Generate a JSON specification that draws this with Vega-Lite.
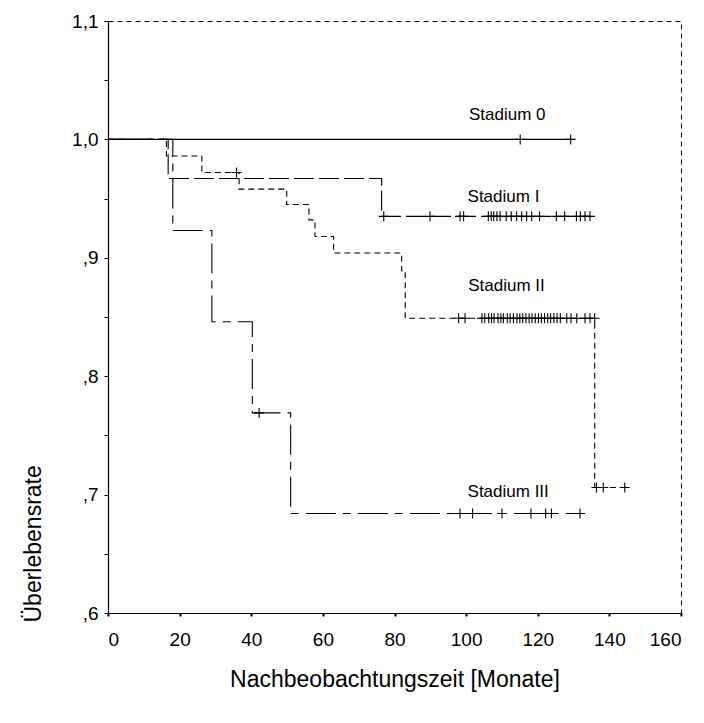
{
  "$schema": "https://vega.github.io/schema/vega-lite/v6.json",
  "width": 573,
  "height": 592,
  "autosize": "none",
  "padding": {"left": 108, "top": 21, "right": 23, "bottom": 110},
  "background": "white",
  "config": {
    "view": {"stroke": "black", "strokeDash": [5, 4], "strokeWidth": 1},
    "font": "Liberation Sans",
    "axis": {
      "grid": false,
      "domainColor": "black",
      "domainWidth": 1.2,
      "tickColor": "black",
      "labelColor": "black",
      "titleColor": "black",
      "labelFont": "Liberation Sans",
      "titleFont": "Liberation Sans",
      "labelFontSize": 19,
      "titleFontSize": 23,
      "titleFontWeight": "normal"
    }
  },
  "datasets": {
    "curve": [
      {"g": "Stadium 0", "t": 0, "s": 1.0},
      {"g": "Stadium 0", "t": 129.2, "s": 1.0},
      {"g": "Stadium I", "t": 0, "s": 1.0},
      {"g": "Stadium I", "t": 16.8, "s": 0.967},
      {"g": "Stadium I", "t": 76.4, "s": 0.935},
      {"g": "Stadium I", "t": 134.6, "s": 0.935},
      {"g": "Stadium II", "t": 0, "s": 1.0},
      {"g": "Stadium II", "t": 16.3, "s": 0.986},
      {"g": "Stadium II", "t": 26.2, "s": 0.972},
      {"g": "Stadium II", "t": 36.6, "s": 0.958},
      {"g": "Stadium II", "t": 49.9, "s": 0.945},
      {"g": "Stadium II", "t": 56.1, "s": 0.932},
      {"g": "Stadium II", "t": 57.8, "s": 0.918},
      {"g": "Stadium II", "t": 63.0, "s": 0.904},
      {"g": "Stadium II", "t": 82.0, "s": 0.889},
      {"g": "Stadium II", "t": 83.0, "s": 0.849},
      {"g": "Stadium II", "t": 135.9, "s": 0.706},
      {"g": "Stadium II", "t": 144.3, "s": 0.706},
      {"g": "Stadium III", "t": 0, "s": 1.0},
      {"g": "Stadium III", "t": 18.1, "s": 0.923},
      {"g": "Stadium III", "t": 29.0, "s": 0.846},
      {"g": "Stadium III", "t": 40.3, "s": 0.769},
      {"g": "Stadium III", "t": 51.0, "s": 0.684},
      {"g": "Stadium III", "t": 131.8, "s": 0.684}
    ],
    "censor": [
      {"g": "Stadium 0", "t": 115.1, "s": 1.0},
      {"g": "Stadium 0", "t": 129.2, "s": 1.0},
      {"g": "Stadium I", "t": 77.0, "s": 0.935},
      {"g": "Stadium I", "t": 89.9, "s": 0.935},
      {"g": "Stadium I", "t": 98.3, "s": 0.935},
      {"g": "Stadium I", "t": 99.3, "s": 0.935},
      {"g": "Stadium I", "t": 106.2, "s": 0.935},
      {"g": "Stadium I", "t": 107.0, "s": 0.935},
      {"g": "Stadium I", "t": 107.7, "s": 0.935},
      {"g": "Stadium I", "t": 108.6, "s": 0.935},
      {"g": "Stadium I", "t": 109.5, "s": 0.935},
      {"g": "Stadium I", "t": 111.2, "s": 0.935},
      {"g": "Stadium I", "t": 112.6, "s": 0.935},
      {"g": "Stadium I", "t": 114.1, "s": 0.935},
      {"g": "Stadium I", "t": 115.5, "s": 0.935},
      {"g": "Stadium I", "t": 116.9, "s": 0.935},
      {"g": "Stadium I", "t": 118.3, "s": 0.935},
      {"g": "Stadium I", "t": 120.5, "s": 0.935},
      {"g": "Stadium I", "t": 125.2, "s": 0.935},
      {"g": "Stadium I", "t": 127.5, "s": 0.935},
      {"g": "Stadium I", "t": 130.8, "s": 0.935},
      {"g": "Stadium I", "t": 131.9, "s": 0.935},
      {"g": "Stadium I", "t": 133.2, "s": 0.935},
      {"g": "Stadium I", "t": 134.6, "s": 0.935},
      {"g": "Stadium II", "t": 35.9, "s": 0.972},
      {"g": "Stadium II", "t": 97.9, "s": 0.849},
      {"g": "Stadium II", "t": 99.7, "s": 0.849},
      {"g": "Stadium II", "t": 104.4, "s": 0.849},
      {"g": "Stadium II", "t": 105.2, "s": 0.849},
      {"g": "Stadium II", "t": 106.3, "s": 0.849},
      {"g": "Stadium II", "t": 107.1, "s": 0.849},
      {"g": "Stadium II", "t": 107.8, "s": 0.849},
      {"g": "Stadium II", "t": 108.9, "s": 0.849},
      {"g": "Stadium II", "t": 109.7, "s": 0.849},
      {"g": "Stadium II", "t": 110.4, "s": 0.849},
      {"g": "Stadium II", "t": 111.5, "s": 0.849},
      {"g": "Stadium II", "t": 112.3, "s": 0.849},
      {"g": "Stadium II", "t": 113.2, "s": 0.849},
      {"g": "Stadium II", "t": 114.2, "s": 0.849},
      {"g": "Stadium II", "t": 115.0, "s": 0.849},
      {"g": "Stadium II", "t": 115.8, "s": 0.849},
      {"g": "Stadium II", "t": 116.7, "s": 0.849},
      {"g": "Stadium II", "t": 117.6, "s": 0.849},
      {"g": "Stadium II", "t": 118.4, "s": 0.849},
      {"g": "Stadium II", "t": 119.3, "s": 0.849},
      {"g": "Stadium II", "t": 120.2, "s": 0.849},
      {"g": "Stadium II", "t": 121.0, "s": 0.849},
      {"g": "Stadium II", "t": 121.9, "s": 0.849},
      {"g": "Stadium II", "t": 122.8, "s": 0.849},
      {"g": "Stadium II", "t": 123.6, "s": 0.849},
      {"g": "Stadium II", "t": 124.5, "s": 0.849},
      {"g": "Stadium II", "t": 125.4, "s": 0.849},
      {"g": "Stadium II", "t": 126.3, "s": 0.849},
      {"g": "Stadium II", "t": 128.1, "s": 0.849},
      {"g": "Stadium II", "t": 129.3, "s": 0.849},
      {"g": "Stadium II", "t": 130.9, "s": 0.849},
      {"g": "Stadium II", "t": 133.2, "s": 0.849},
      {"g": "Stadium II", "t": 134.6, "s": 0.849},
      {"g": "Stadium II", "t": 135.9, "s": 0.849},
      {"g": "Stadium II", "t": 136.4, "s": 0.706},
      {"g": "Stadium II", "t": 138.3, "s": 0.706},
      {"g": "Stadium II", "t": 144.3, "s": 0.706},
      {"g": "Stadium III", "t": 42.2, "s": 0.769},
      {"g": "Stadium III", "t": 98.3, "s": 0.684},
      {"g": "Stadium III", "t": 101.8, "s": 0.684},
      {"g": "Stadium III", "t": 110.0, "s": 0.684},
      {"g": "Stadium III", "t": 118.1, "s": 0.684},
      {"g": "Stadium III", "t": 122.2, "s": 0.684},
      {"g": "Stadium III", "t": 123.8, "s": 0.684},
      {"g": "Stadium III", "t": 131.8, "s": 0.684}
    ],
    "labels": [
      {"g": "Stadium 0", "t": 100.8, "s": 1.021},
      {"g": "Stadium I", "t": 100.4, "s": 0.951},
      {"g": "Stadium II", "t": 100.6, "s": 0.876},
      {"g": "Stadium III", "t": 100.4, "s": 0.702}
    ]
  },
  "layer": [
    {
      "data": {"name": "curve"},
      "mark": {"type": "line", "interpolate": "step-after", "color": "black", "strokeWidth": 1.1},
      "encoding": {
        "x": {
          "field": "t", "type": "quantitative",
          "scale": {"domain": [0, 160], "nice": false, "zero": false},
          "axis": {
            "values": [0, 20, 40, 60, 80, 100, 120, 140, 160],
            "tickSize": 3, "tickWidth": 2, "labelPadding": 14,
            "title": "Nachbeobachtungszeit [Monate]",
            "titlePadding": 19
          }
        },
        "y": {
          "field": "s", "type": "quantitative",
          "scale": {"domain": [0.6, 1.1], "nice": false, "zero": false},
          "axis": {
            "values": [0.6, 0.65, 0.7, 0.75, 0.8, 0.85, 0.9, 0.95, 1.0, 1.05, 1.1],
            "labelExpr": "round(datum.value*20) % 2 == 1 ? '' : replace(replace(format(datum.value, '.1f'), '0.', ','), '.', ',')",
            "tickSize": 4, "labelPadding": 6,
            "title": "Überlebensrate",
            "titleAnchor": "start",
            "titleY": 601,
            "titlePadding": 26
          }
        },
        "detail": {"field": "g", "type": "nominal"},
        "strokeDash": {
          "field": "g", "type": "nominal",
          "scale": {
            "domain": ["Stadium 0", "Stadium I", "Stadium II", "Stadium III"],
            "range": [[1, 0], [20, 5], [6, 4], [30, 7, 8, 7]]
          },
          "legend": null
        }
      }
    },
    {
      "data": {"name": "censor"},
      "mark": {"type": "point", "shape": "M-1,0L1,0M0,-1L0,1", "size": 100, "filled": false, "stroke": "black", "strokeWidth": 1.1, "opacity": 1},
      "encoding": {
        "x": {"field": "t", "type": "quantitative"},
        "y": {"field": "s", "type": "quantitative"}
      }
    },
    {
      "data": {"name": "labels"},
      "mark": {"type": "text", "align": "left", "baseline": "middle", "fontSize": 17, "font": "Liberation Sans", "color": "black"},
      "encoding": {
        "x": {"field": "t", "type": "quantitative"},
        "y": {"field": "s", "type": "quantitative"},
        "text": {"field": "g", "type": "nominal"}
      }
    }
  ]
}
